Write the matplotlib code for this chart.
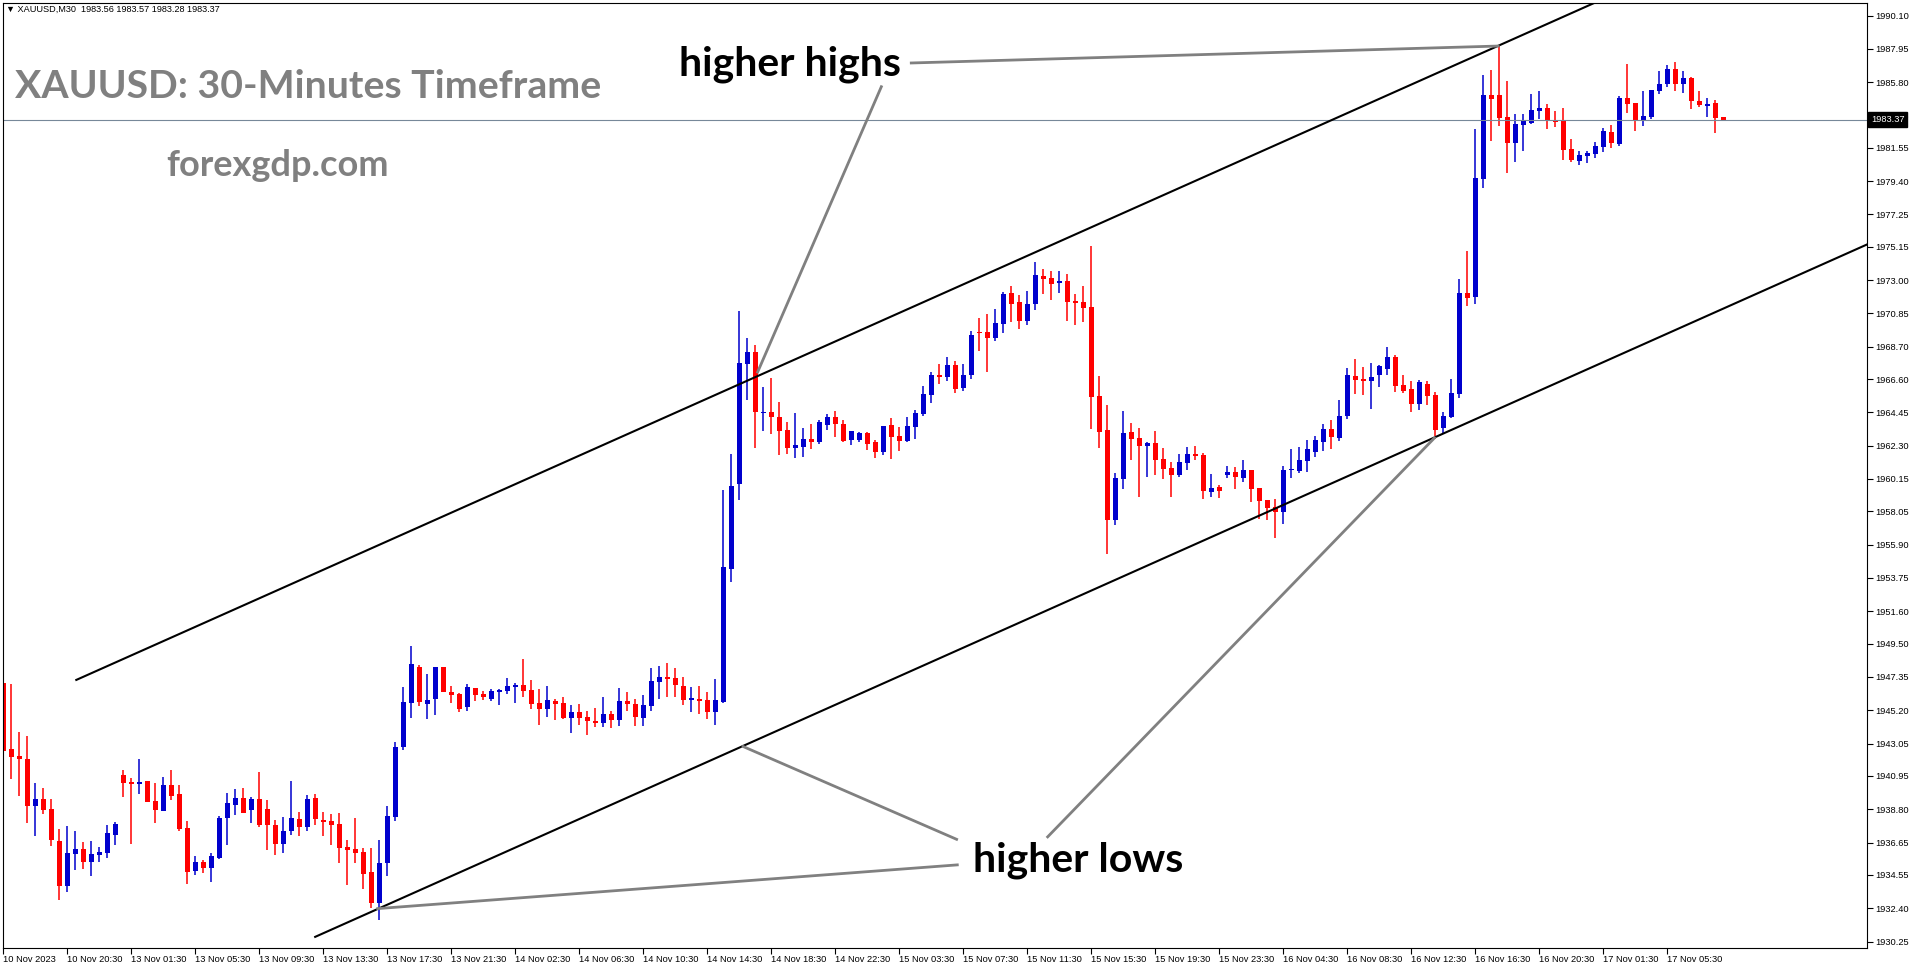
import numpy as np
import matplotlib
matplotlib.use("Agg")
import matplotlib.pyplot as plt

# XAUUSD M30 candles, 10 Nov 2023 16:30 -> 17 Nov 2023 09:00
opens = [1946.94, 1942.70, 1942.25, 1942.05, 1939.04, 1939.47, 1938.82, 1936.75, 1933.87, 1935.93,
         1936.24, 1935.42, 1935.87, 1936.00, 1937.16, 1941.02, 1940.57, 1940.40, 1940.63, 1939.34,
         1938.71, 1940.37, 1939.79, 1937.59, 1934.83, 1935.40, 1935.03, 1935.65, 1938.26, 1939.10,
         1939.53, 1938.78, 1939.47, 1938.82, 1937.79, 1936.58, 1937.42, 1938.17, 1937.68, 1939.53,
         1938.11, 1938.05, 1937.85, 1936.36, 1936.24, 1936.04, 1934.77, 1932.77, 1935.35, 1938.33,
         1942.85, 1945.69, 1948.00, 1945.61, 1945.95, 1948.00, 1946.41, 1946.27, 1945.44, 1946.64,
         1946.27, 1945.95, 1946.41, 1946.47, 1946.73, 1946.86, 1946.53, 1945.69, 1945.31, 1945.82,
         1945.69, 1944.72, 1945.11, 1944.79, 1944.53, 1944.40, 1944.98, 1944.60, 1945.82, 1945.63,
         1944.72, 1945.50, 1947.05, 1947.37, 1947.31, 1946.79, 1945.87, 1945.95, 1945.87, 1945.11,
         1945.76, 1954.36, 1959.85, 1967.59, 1968.36, 1964.43, 1964.48, 1964.16, 1963.32, 1962.16,
         1962.22, 1962.74, 1962.54, 1963.64, 1964.16, 1963.71, 1962.67, 1962.67, 1963.13, 1962.54,
         1961.90, 1963.64, 1962.93, 1962.61, 1963.51, 1964.35, 1965.58, 1966.88, 1966.75, 1967.52,
         1966.03, 1966.88, 1969.65, 1969.65, 1969.27, 1970.19, 1972.17, 1971.59, 1970.39, 1971.46,
         1973.27, 1973.14, 1972.84, 1972.95, 1971.66, 1971.61, 1971.27, 1965.54, 1963.32, 1957.52,
         1960.17, 1963.21, 1962.82, 1962.31, 1962.50, 1961.47, 1960.88, 1960.43, 1961.21, 1961.79,
         1961.72, 1959.33, 1959.66, 1960.43, 1960.62, 1960.24, 1960.75, 1959.59, 1958.82, 1958.36,
         1958.04, 1960.75, 1960.69, 1961.34, 1961.92, 1962.57, 1963.41, 1962.82, 1964.25, 1966.83,
         1966.64, 1966.51, 1966.90, 1967.29, 1968.04, 1966.23, 1965.99, 1965.02, 1966.31, 1965.58,
         1963.47, 1964.18, 1965.67, 1972.17, 1971.94, 1979.54, 1984.97, 1984.97, 1983.55, 1981.89,
         1983.03, 1983.19, 1983.94, 1984.13, 1983.36, 1983.29, 1981.48, 1980.71, 1981.04, 1981.16,
         1981.61, 1982.58, 1981.81, 1984.78, 1984.46, 1983.36, 1983.55, 1985.23, 1985.68, 1986.65,
         1985.68, 1986.07, 1984.59, 1984.26, 1984.46, 1983.56]
highs = [1947.70, 1946.90, 1943.80, 1943.54, 1940.50, 1940.18, 1939.47, 1937.53, 1937.72, 1937.40,
         1936.69, 1936.75, 1936.34, 1937.79, 1937.98, 1941.34, 1940.82, 1942.05, 1940.63, 1940.50,
         1940.89, 1941.34, 1940.37, 1938.05, 1935.78, 1935.52, 1935.98, 1938.37, 1939.86, 1940.11,
         1940.18, 1939.60, 1941.21, 1939.40, 1938.11, 1938.30, 1940.63, 1938.63, 1939.73, 1939.79,
         1938.63, 1938.50, 1938.56, 1936.82, 1938.24, 1936.30, 1936.30, 1936.82, 1939.02, 1943.15,
         1946.71, 1949.36, 1948.13, 1947.55, 1948.00, 1948.00, 1946.79, 1946.34, 1946.90, 1946.64,
         1946.47, 1946.60, 1946.60, 1947.31, 1946.99, 1948.52, 1947.18, 1946.60, 1946.79, 1945.95,
         1946.08, 1945.57, 1945.63, 1945.18, 1945.35, 1946.08, 1945.18, 1946.66, 1946.41, 1945.95,
         1946.21, 1947.93, 1948.06, 1948.26, 1947.93, 1947.37, 1946.73, 1946.79, 1946.41, 1947.25,
         1959.44, 1961.77, 1971.01, 1969.27, 1968.81, 1966.10, 1966.68, 1965.13, 1963.84, 1964.42,
         1963.45, 1963.71, 1963.97, 1964.35, 1964.55, 1963.97, 1963.25, 1963.19, 1963.19, 1962.67,
         1963.58, 1964.10, 1963.51, 1964.16, 1964.61, 1966.16, 1967.07, 1967.59, 1968.04, 1967.78,
         1967.59, 1969.72, 1970.56, 1970.82, 1971.14, 1972.24, 1972.63, 1972.05, 1972.30, 1974.18,
         1973.73, 1973.60, 1973.60, 1973.40, 1972.11, 1972.63, 1975.23, 1966.81, 1964.96, 1960.56,
         1964.55, 1963.79, 1963.47, 1962.57, 1963.25, 1962.18, 1961.27, 1961.79, 1962.24, 1962.31,
         1961.85, 1960.49, 1959.79, 1961.01, 1960.95, 1961.40, 1960.75, 1959.59, 1958.82, 1958.88,
         1961.01, 1962.11, 1962.24, 1962.70, 1962.96, 1963.73, 1963.99, 1965.28, 1967.35, 1967.93,
         1967.41, 1967.67, 1967.54, 1968.70, 1968.17, 1966.87, 1966.51, 1966.57, 1966.51, 1965.80,
         1964.48, 1966.62, 1973.10, 1974.91, 1982.78, 1986.27, 1986.61, 1988.14, 1985.88, 1983.77,
         1983.75, 1985.04, 1985.25, 1984.39, 1983.94, 1984.13, 1982.13, 1981.35, 1981.35, 1981.96,
         1982.86, 1983.03, 1984.91, 1986.99, 1984.46, 1985.23, 1985.30, 1986.53, 1986.91, 1987.11,
         1986.53, 1986.14, 1985.23, 1984.78, 1984.65, 1983.57]
lows = [1941.13, 1940.78, 1939.68, 1937.94, 1937.10, 1938.52, 1936.45, 1932.96, 1933.48, 1934.90,
        1934.94, 1934.51, 1935.40, 1935.65, 1936.52, 1939.62, 1936.58, 1939.79, 1939.30, 1937.94,
        1938.71, 1939.42, 1937.40, 1933.99, 1934.58, 1934.71, 1934.12, 1935.59, 1936.52, 1938.45,
        1938.58, 1937.94, 1937.68, 1936.19, 1935.87, 1936.00, 1937.16, 1937.10, 1937.42, 1937.75,
        1937.10, 1936.52, 1935.35, 1933.93, 1935.35, 1933.67, 1932.44, 1931.67, 1934.51, 1938.07,
        1942.66, 1944.72, 1945.50, 1944.66, 1944.92, 1946.41, 1945.69, 1945.11, 1945.18, 1945.82,
        1945.89, 1945.82, 1945.57, 1946.27, 1945.69, 1946.08, 1945.31, 1944.27, 1944.79, 1944.60,
        1944.66, 1943.76, 1944.27, 1943.63, 1944.14, 1944.14, 1944.08, 1944.21, 1945.18, 1944.21,
        1944.21, 1945.18, 1945.95, 1946.08, 1946.08, 1945.57, 1945.11, 1944.98, 1944.66, 1944.27,
        1945.69, 1953.52, 1958.82, 1965.26, 1962.16, 1963.25, 1963.06, 1961.70, 1961.77, 1961.51,
        1961.57, 1962.09, 1962.41, 1963.32, 1962.87, 1962.54, 1962.35, 1962.54, 1962.03, 1961.51,
        1961.70, 1961.44, 1961.96, 1962.54, 1962.74, 1964.22, 1965.06, 1966.29, 1966.49, 1965.71,
        1965.84, 1966.61, 1968.43, 1967.07, 1969.07, 1969.61, 1970.32, 1969.87, 1970.13, 1971.08,
        1972.13, 1971.74, 1972.20, 1970.39, 1970.13, 1970.32, 1963.41, 1962.18, 1955.30, 1957.20,
        1959.53, 1961.40, 1959.01, 1960.30, 1960.43, 1960.17, 1959.01, 1960.30, 1960.75, 1961.40,
        1958.88, 1959.01, 1958.95, 1960.24, 1959.53, 1959.98, 1958.69, 1957.59, 1957.52, 1956.36,
        1957.26, 1960.24, 1960.56, 1960.62, 1961.59, 1961.98, 1962.11, 1962.63, 1964.05, 1965.67,
        1965.60, 1964.70, 1966.12, 1966.90, 1965.80, 1965.73, 1964.51, 1964.63, 1964.96, 1962.72,
        1963.10, 1964.09, 1965.41, 1971.36, 1971.46, 1978.96, 1982.00, 1982.99, 1979.95, 1980.64,
        1981.35, 1983.12, 1983.42, 1982.78, 1982.93, 1980.77, 1980.64, 1980.45, 1980.58, 1980.90,
        1981.29, 1981.55, 1981.68, 1983.81, 1982.65, 1982.97, 1983.42, 1985.04, 1985.49, 1985.23,
        1985.10, 1984.07, 1984.20, 1983.55, 1982.52, 1983.28]
closes = [1942.59, 1942.20, 1942.03, 1939.04, 1939.47, 1938.78, 1936.82, 1933.87, 1935.98, 1936.24,
          1935.42, 1935.91, 1936.04, 1937.27, 1937.85, 1940.52, 1940.40, 1940.57, 1939.30, 1938.78,
          1940.37, 1939.68, 1937.53, 1934.77, 1935.40, 1934.97, 1935.78, 1938.24, 1939.21, 1939.53,
          1938.58, 1939.47, 1937.75, 1937.75, 1936.58, 1937.40, 1938.24, 1937.68, 1939.47, 1938.20,
          1938.00, 1937.81, 1936.32, 1936.19, 1936.00, 1934.64, 1932.77, 1935.35, 1938.37, 1942.83,
          1945.74, 1948.19, 1945.76, 1945.87, 1948.00, 1946.41, 1946.21, 1945.31, 1946.71, 1946.21,
          1946.08, 1946.47, 1946.53, 1946.79, 1946.86, 1946.47, 1945.63, 1945.31, 1945.87, 1945.63,
          1944.72, 1945.11, 1944.72, 1944.53, 1944.40, 1944.98, 1944.60, 1945.82, 1945.63, 1944.79,
          1945.57, 1947.12, 1947.37, 1947.25, 1946.86, 1945.87, 1946.02, 1945.82, 1945.11, 1945.87,
          1954.49, 1959.70, 1967.65, 1968.36, 1964.48, 1964.45, 1964.16, 1963.25, 1962.16, 1962.35,
          1962.74, 1962.54, 1963.84, 1964.16, 1963.71, 1962.61, 1963.25, 1963.13, 1962.42, 1961.90,
          1963.58, 1962.87, 1962.61, 1963.58, 1964.42, 1965.65, 1966.88, 1966.75, 1967.52, 1965.97,
          1966.88, 1969.46, 1969.59, 1969.27, 1970.24, 1972.11, 1971.49, 1970.39, 1971.46, 1973.34,
          1973.10, 1972.78, 1972.95, 1971.61, 1971.55, 1971.23, 1965.47, 1963.21, 1957.52, 1960.24,
          1963.15, 1962.76, 1962.31, 1962.50, 1961.40, 1960.82, 1960.43, 1961.27, 1961.79, 1961.66,
          1959.40, 1959.59, 1959.40, 1960.62, 1960.30, 1960.75, 1959.53, 1958.75, 1958.30, 1958.04,
          1960.75, 1960.82, 1961.40, 1962.11, 1962.70, 1963.41, 1962.89, 1964.25, 1966.90, 1966.57,
          1966.51, 1966.77, 1967.48, 1968.06, 1966.18, 1965.86, 1965.02, 1966.42, 1965.54, 1963.34,
          1964.22, 1965.69, 1972.17, 1971.87, 1979.61, 1984.97, 1984.74, 1983.51, 1981.89, 1983.10,
          1983.29, 1984.00, 1984.13, 1983.31, 1983.25, 1981.42, 1980.77, 1981.10, 1981.23, 1981.68,
          1982.65, 1981.87, 1984.78, 1984.39, 1983.36, 1983.62, 1985.30, 1985.68, 1986.65, 1985.68,
          1986.07, 1984.59, 1984.33, 1984.39, 1983.49, 1983.37]

time_labels = ["10 Nov 2023", "10 Nov 20:30", "13 Nov 01:30", "13 Nov 05:30", "13 Nov 09:30",
               "13 Nov 13:30", "13 Nov 17:30", "13 Nov 21:30", "14 Nov 02:30", "14 Nov 06:30",
               "14 Nov 10:30", "14 Nov 14:30", "14 Nov 18:30", "14 Nov 22:30", "15 Nov 03:30",
               "15 Nov 07:30", "15 Nov 11:30", "15 Nov 15:30", "15 Nov 19:30", "15 Nov 23:30",
               "16 Nov 04:30", "16 Nov 08:30", "16 Nov 12:30", "16 Nov 16:30", "16 Nov 20:30",
               "17 Nov 01:30", "17 Nov 05:30"]
price_ticks = [1990.10, 1987.95, 1985.80, 1983.65, 1981.55, 1979.40, 1977.25, 1975.15, 1973.00,
               1970.85, 1968.70, 1966.60, 1964.45, 1962.30, 1960.15, 1958.05, 1955.90, 1953.75,
               1951.60, 1949.50, 1947.35, 1945.20, 1943.05, 1940.95, 1938.80, 1936.65, 1934.55,
               1932.40, 1930.25]
last_price = 1983.37

# trend lines as (bar index, price) anchors
upper_channel = [(9.1, 1947.16), (198.75, 1990.90)]
lower_channel = [(38.96, 1930.55), (232.9, 1975.30)]
hh_lines = [[(113.3, 1987.04), (187.0, 1988.14)],
            [(109.8, 1985.59), (94.2, 1966.98)]]
hl_lines = [[(92.3, 1942.89), (119.3, 1936.82)],
            [(46.6, 1932.37), (119.4, 1935.21)],
            [(130.4, 1936.95), (179.0, 1962.87)]]

fig = plt.figure(figsize=(19.16, 9.64), dpi=100)
ax = fig.add_axes([3 / 1916, 16 / 964, 1864 / 1916, 945 / 964])

o = np.array(opens)
c = np.array(closes)
x = np.arange(len(o))
colors = np.where(c >= o, "#0000CD", "#FF0000")

ax.vlines(x, lows, highs, colors=colors, lw=1.1)
ax.bar(x, np.maximum(np.abs(c - o), 0.07), bottom=np.minimum(o, c), width=0.62,
       color=colors, linewidth=0)

ax.axhline(last_price, color="#778899", lw=0.8)

for line in [upper_channel, lower_channel]:
    ax.plot([p[0] for p in line], [p[1] for p in line], color="black", lw=1.5)
for line in hh_lines + hl_lines:
    ax.plot([p[0] for p in line], [p[1] for p in line], color="#808080", lw=2.0,
            solid_capstyle="butt")

ax.set_xlim(-0.0625, 232.94)
ax.set_ylim(1929.83, 1990.92)

ax.set_xticks(np.arange(len(time_labels)) * 8)
ax.set_xticklabels(time_labels, ha="left", family="Liberation Sans")
ax.tick_params(axis="x", direction="out", length=4, pad=1, labelsize=6.7, width=0.8)

ax.yaxis.tick_right()
ax.set_yticks(price_ticks)
ax.set_yticklabels([f"{t:.2f}" for t in price_ticks], family="Liberation Sans")
ax.tick_params(axis="y", direction="out", length=4, pad=2, labelsize=6.7, width=0.8)
for s in ax.spines.values():
    s.set_linewidth(0.8)

# current bid box on the price scale (covers the 1983.65 label, as in MT4)
ax.annotate(f"{last_price:.2f}", xy=(1, last_price), xycoords=("axes fraction", "data"),
            xytext=(3, 0), textcoords="offset points", ha="left", va="center",
            color="white", fontsize=6.7, family="Liberation Sans",
            bbox=dict(boxstyle="square,pad=0.3", fc="black", ec="black"),
            annotation_clip=False, zorder=10)

ax.text(0.0015, 0.9937, "\u25bc XAUUSD,M30  1983.56 1983.57 1983.28 1983.37",
        transform=ax.transAxes, va="center", ha="left", fontsize=6.6,
        family=["Liberation Sans", "DejaVu Sans"])
ax.text(0.0064, 0.912, "XAUUSD: 30-Minutes Timeframe", transform=ax.transAxes,
        va="center", ha="left", fontsize=28.3, fontweight="bold", color="#808080", family="Lato")
ax.text(0.147, 0.828, "forexgdp.com", transform=ax.transAxes, va="center", ha="center",
        fontsize=26, fontweight="bold", color="#808080", family="Lato")
ax.text(98.3, 1986.98, "higher highs", va="center", ha="center", fontsize=29.5,
        fontweight="bold", color="black", family="Lato")
ax.text(134.3, 1935.51, "higher lows", va="center", ha="center", fontsize=29.5,
        fontweight="bold", color="black", family="Lato")

fig.savefig("out.png", dpi=100, facecolor="white")
